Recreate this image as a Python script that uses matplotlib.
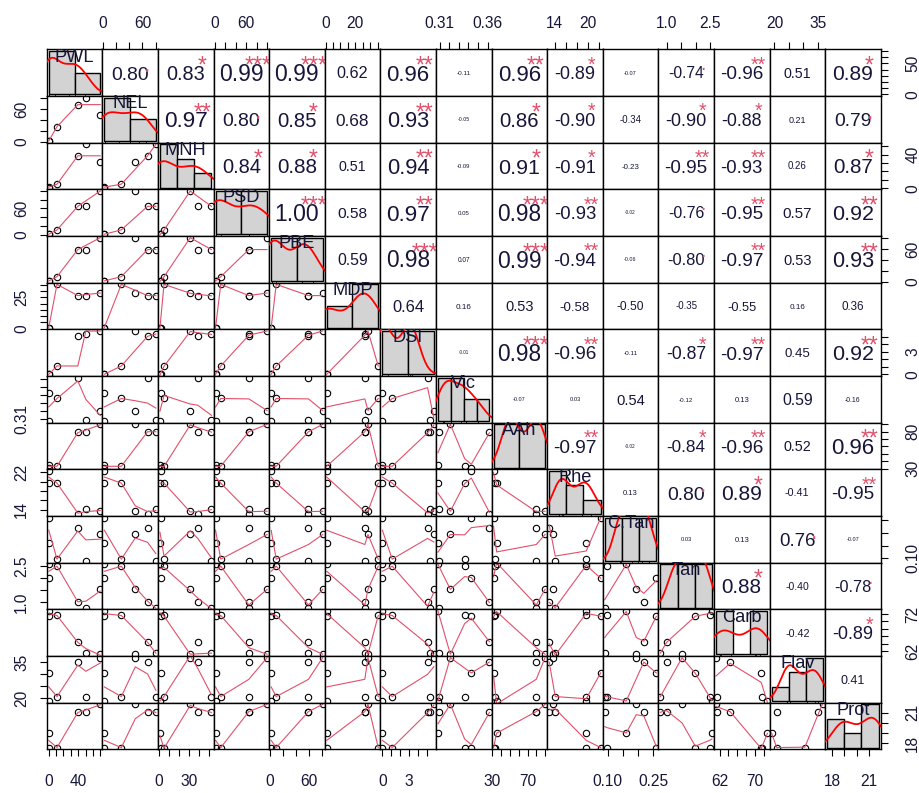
import numpy as np
import matplotlib
matplotlib.use("Agg")
import matplotlib.pyplot as plt
from matplotlib.font_manager import FontProperties

plt.rcParams['font.family'] = ['Liberation Sans', 'DejaVu Sans']

# ---------------- data (6 samples per variable) ----
names = ["PWL", "NEL", "MNH", "PSD", "PBE", "MDP", "DSI", "Vic", "AAh", "Rhe",
         "C.Tan", "Tan", "Carb", "Flav", "Prot"]
PWL  = [0.0, 0.0, 11.2, 39.5, 50.4, 70.0]
NEL  = [1.9, 1.9, 27.8, 67.9, 80.5, 49.1]
MNH  = [1.0, 2.0, 5.0, 38.5, 52.0, 31.0]
PSD  = [1.0, 1.0, 11.0, 65.0, 65.0, 100.0]
PBE  = [2.3, 2.3, 10.0, 59.0, 59.0, 80.5]
MDP  = [0.8, 0.8, 35.4, 26.4, 26.4, 28.5]
DSI  = [0.0, 0.0, 1.1, 5.05, 5.35, 5.75]
Vic  = [0.308, 0.343, 0.336, 0.362, 0.309, 0.321]
AAh  = [34.8, 31.3, 33.1, 80.0, 80.0, 90.0]
Rhe  = [19.7, 22.3, 19.7, 13.0, 14.1, 13.65]
CTan = [0.161, 0.260, 0.097, 0.219, 0.090, 0.194]
Tan  = [2.565, 1.99, 2.49, 0.99, 0.775, 1.53]
Carb = [72.8, 71.4, 71.6, 64.4, 61.5, 61.2]
Flav = [19.0, 30.6, 20.8, 35.1, 20.8, 36.9]
Prot = [19.0, 17.6, 17.6, 21.1, 21.1, 21.8]
data = [PWL, NEL, MNH, PSD, PBE, MDP, DSI, Vic, AAh, Rhe, CTan, Tan, Carb, Flav, Prot]

# correlation coefficients printed in the upper triangle (row variable vs later columns)
r_PWL  = [0.80, 0.83, 0.99, 0.99, 0.62, 0.96, -0.11, 0.96, -0.89, -0.07, -0.74, -0.96, 0.51, 0.89]
r_NEL  = [0.97, 0.80, 0.85, 0.68, 0.93, -0.05, 0.86, -0.90, -0.34, -0.90, -0.88, 0.21, 0.79]
r_MNH  = [0.84, 0.88, 0.51, 0.94, -0.09, 0.91, -0.91, -0.23, -0.95, -0.93, 0.26, 0.87]
r_PSD  = [1.00, 0.58, 0.97, 0.05, 0.98, -0.93, -0.02, -0.76, -0.95, 0.57, 0.92]
r_PBE  = [0.59, 0.98, 0.07, 0.99, -0.94, -0.06, -0.80, -0.97, 0.53, 0.93]
r_MDP  = [0.64, 0.16, 0.53, -0.58, -0.50, -0.35, -0.55, 0.16, 0.36]
r_DSI  = [-0.01, 0.98, -0.96, -0.11, -0.87, -0.97, 0.45, 0.92]
r_Vic  = [-0.07, 0.03, 0.54, -0.12, 0.13, 0.59, -0.16]
r_AAh  = [-0.97, -0.02, -0.84, -0.96, 0.52, 0.96]
r_Rhe  = [0.13, 0.80, 0.89, -0.41, -0.95]
r_CTan = [0.03, 0.13, 0.76, -0.07]
r_Tan  = [0.88, -0.40, -0.78]
r_Carb = [-0.42, -0.89]
r_Flav = [0.41]
r_rows = [r_PWL, r_NEL, r_MNH, r_PSD, r_PBE, r_MDP, r_DSI, r_Vic, r_AAh, r_Rhe,
          r_CTan, r_Tan, r_Carb, r_Flav]

# axis ticks and the tick labels that are printed
ticks = [list(range(0, 71, 10)), [0, 20, 40, 60, 80], list(range(0, 51, 10)),
         list(range(0, 101, 20)), [0, 20, 40, 60, 80], list(range(0, 36, 5)),
         [0, 1, 2, 3, 4, 5], [0.31, 0.32, 0.33, 0.34, 0.35, 0.36],
         list(range(30, 91, 10)), [14, 16, 18, 20, 22], [0.10, 0.15, 0.20, 0.25],
         [1.0, 1.5, 2.0, 2.5], [62, 64, 66, 68, 70, 72], [20, 25, 30, 35], [18, 19, 20, 21]]
xlabels_shown = [{0: "0", 40: "40"}, {0: "0", 60: "60"}, {0: "0", 30: "30"},
                 {0: "0", 60: "60"}, {0: "0", 60: "60"}, {0: "0", 20: "20"},
                 {0: "0", 3: "3"}, {0.31: "0.31", 0.36: "0.36"}, {30: "30", 70: "70"},
                 {14: "14", 20: "20"}, {0.10: "0.10", 0.25: "0.25"}, {1.0: "1.0", 2.5: "2.5"},
                 {62: "62", 70: "70"}, {20: "20", 35: "35"}, {18: "18", 21: "21"}]
ylabels_shown = [{0: "0", 50: "50"}, {0: "0", 60: "60"}, {0: "0", 40: "40"},
                 {0: "0", 60: "60"}, {0: "0", 60: "60"}, {0: "0", 25: "25"},
                 {0: "0", 3: "3"}, {0.31: "0.31"}, {30: "30", 80: "80"},
                 {14: "14", 22: "22"}, {0.10: "0.10"}, {1.0: "1.0", 2.5: "2.5"},
                 {62: "62", 72: "72"}, {20: "20", 35: "35"}, {18: "18", 21: "21"}]

# ---------------- helpers -------------------------------------------------------
def lowest(x, y, n, xs, nleft, nright, w, userw, rw):
    rng = x[n - 1] - x[0]
    h = max(xs - x[nleft], x[nright] - xs)
    h9, h1 = 0.999 * h, 0.001 * h
    a = 0.0
    j = nleft
    while j < n:
        w[j] = 0.0
        r = abs(x[j] - xs)
        if r <= h9:
            w[j] = 1.0 if r <= h1 else (1 - (r / h) ** 3) ** 3
            if userw:
                w[j] *= rw[j]
            a += w[j]
        elif x[j] > xs:
            break
        j += 1
    nrt = j - 1
    if a <= 0:
        return 0.0, False
    for k in range(nleft, nrt + 1):
        w[k] /= a
    if h > 0:
        a = sum(w[k] * x[k] for k in range(nleft, nrt + 1))
        b = xs - a
        c = sum(w[k] * (x[k] - a) ** 2 for k in range(nleft, nrt + 1))
        if np.sqrt(c) > 0.001 * rng:
            b /= c
            for k in range(nleft, nrt + 1):
                w[k] *= (b * (x[k] - a) + 1)
    return sum(w[k] * y[k] for k in range(nleft, nrt + 1)), True


def lowess(xx, yy, f=2 / 3, iters=3):
    o = np.argsort(xx, kind="mergesort")
    x = np.asarray(xx, float)[o]
    y = np.asarray(yy, float)[o]
    n = len(x)
    delta = 0.01 * (x[-1] - x[0])
    ns = max(2, min(n, int(f * n + 1e-7)))
    ys = np.zeros(n)
    rw = np.ones(n)
    w = np.zeros(n)
    for it in range(1, iters + 2):
        nleft, nright, last, i = 0, ns - 1, -1, 0
        while True:
            if nright < n - 1:
                d1 = x[i] - x[nleft]
                d2 = x[nright + 1] - x[i]
                if d1 > d2:
                    nleft += 1
                    nright += 1
                    continue
            val, ok = lowest(x, y, n, x[i], nleft, nright, w, it > 1, rw)
            ys[i] = val if ok else y[i]
            if last < i - 1:
                denom = x[i] - x[last]
                for j in range(last + 1, i):
                    alpha = (x[j] - x[last]) / denom
                    ys[j] = alpha * ys[i] + (1 - alpha) * ys[last]
            last = i
            cut = x[last] + delta
            i = last + 1
            while i < n:
                if x[i] > cut:
                    break
                if x[i] == x[last]:
                    ys[i] = ys[last]
                    last = i
                i += 1
            i = max(last + 1, i - 1)
            if last >= n - 1:
                break
        res = y - ys
        sc = np.sum(np.abs(res)) / n
        if it > iters:
            break
        ar = np.sort(np.abs(res))
        m1 = n // 2
        if n % 2 == 0:
            cmad = 3 * (ar[m1] + ar[n - m1 - 1])
        else:
            cmad = 6 * ar[m1]
        if cmad < 1e-7 * sc:
            break
        r = np.abs(res) / cmad
        rw = np.where(r <= 0.001, 1.0, np.where(r > 0.999, 0.0, (1 - r ** 2) ** 2))
    return x, ys


def r_pretty(lo, hi, n, min_n=1, h=1.5):
    h5 = 0.5 + 1.5 * h
    dx = hi - lo
    cell = max(abs(lo), abs(hi))
    U = 1 + (1 / (1 + h))
    U *= max(1, n) * np.finfo(float).eps
    if dx < cell * U * 3:
        if cell > 10:
            cell = 9 + cell / 10
        cell *= 0.75
    else:
        cell = dx / n if n > 1 else dx
    base = 10 ** np.floor(np.log10(cell))
    unit = base
    if 2 * base - cell < h * (cell - unit):
        unit = 2 * base
        if 5 * base - cell < h5 * (cell - unit):
            unit = 5 * base
            if 10 * base - cell < h * (cell - unit):
                unit = 10 * base
    ns = np.floor(lo / unit + 1e-7)
    nu = np.ceil(hi / unit - 1e-7)
    while ns * unit > lo + 1e-10 * unit:
        ns -= 1
    while nu * unit < hi - 1e-10 * unit:
        nu += 1
    k = int(np.floor(0.5 + nu - ns))
    if k < min_n:
        k = min_n - k
        if ns >= 0:
            nu += k // 2
            ns -= k // 2 + k % 2
        else:
            ns -= k // 2
            nu += k // 2 + k % 2
    return np.arange(ns, nu + 1) * unit


def fd_breaks(x):
    x = np.asarray(x, float)
    q1, q3 = np.percentile(x, [25, 75])
    h = 2 * (q3 - q1)
    if h == 0:
        xs = np.sort(x)
        al = 0.25
        while h == 0 and (al := al / 2) >= 1 / 512:
            a, b = np.percentile(xs, [100 * al, 100 * (1 - al)])
            h = (b - a) / (1 - 2 * al)
    nb = max(1, int(np.ceil((x.max() - x.min()) / (h * len(x) ** (-1 / 3))))) if h > 0 else 1
    return r_pretty(x.min(), x.max(), nb, min_n=1)


def density(x):
    x = np.asarray(x, float)
    n = len(x)
    sd = x.std(ddof=1)
    q1, q3 = np.percentile(x, [25, 75])
    lo = min(sd, (q3 - q1) / 1.34)
    if lo == 0:
        lo = sd if sd > 0 else (abs(x[0]) if x[0] != 0 else 1)
    bw = 0.9 * lo * n ** (-0.2)
    g = np.linspace(x.min() - 3 * bw, x.max() + 3 * bw, 512)
    d = np.exp(-0.5 * ((g[:, None] - x[None, :]) / bw) ** 2).sum(1) / (n * bw * np.sqrt(2 * np.pi))
    return g, d


def stars(r):
    r = abs(r)
    p = max(0.0, 1 - r * (1 + (1 - r * r) / 2))   # two-sided p, t-test with 4 df
    if p <= 0.001:
        return "***"
    if p <= 0.01:
        return "**"
    if p <= 0.05:
        return "*"
    if p <= 0.1:
        return "."
    return ""

# ---------------- layout --------------------------------------------------------
FW, FH, DPI = 919, 793, 100
fig = plt.figure(figsize=(FW / DPI, FH / DPI), dpi=DPI)
renderer = fig.canvas.get_renderer()
L, R, T, B = 46.7, 880.7, 49.3, 749.3
nv = len(names)
W = (R - L) / nv
H = (B - T) / nv
TXT = "#16163a"
SMOOTH = "#E0506A"
FONT = "Liberation Sans"


def rect(i, j):
    return [(L + j * W) / FW, 1 - (T + (i + 1) * H) / FH, W / FW, H / FH]


def text_w(s, size):
    fp = FontProperties(family=FONT, size=size)
    w, h, d = renderer.get_text_width_height_descent(s, fp, ismath=False)
    return w


def lims(v):
    v = np.asarray(v, float)
    lo, hi = v.min(), v.max()
    pad = 0.04 * (hi - lo)
    return lo - pad, hi + pad


px2pt = 72.0 / DPI
lab_size = 0.9 * W / text_w(max(names, key=lambda s: text_w(s, 10)), 10) * 10 * 0.95

base_kw = dict(length=5.2, width=0.8, direction="out", labelsize=11.2,
               labelcolor=TXT, color="black")

for i in range(nv):
    for j in range(nv):
        ax = fig.add_axes(rect(i, j))
        ax.set_xlim(*lims(data[j]))
        ax.set_ylim(*lims(data[i]))
        for sp in ax.spines.values():
            sp.set_linewidth(1.0)
            sp.set_color("black")
        ax.set_xticks([])
        ax.set_yticks([])

        if i > j:   # lower: scatter + lowess
            ax.plot(data[j], data[i], linestyle="none", marker="o", ms=4.6,
                    mfc="none", mec="black", mew=0.8)
            lx, ly = lowess(data[j], data[i])
            ax.plot(lx, ly, color=SMOOTH, lw=0.8)
        elif i < j:  # upper: correlation text
            r = r_rows[i][j - i - 1]
            txt = f"{r:.2f}"
            full = 0.8 * W / text_w(txt, 10) * 10
            fs = full * (abs(r) + 0.3) / 1.3
            em = fs / px2pt
            ax.text(0.5, 0.5 - 0.36 * em / H, txt, transform=ax.transAxes,
                    ha="center", va="baseline", fontsize=fs, color=TXT, family=FONT)
            s = stars(r)
            if s:
                emf = full / px2pt
                ax.text(0.8, 0.8 - 0.60 * emf / H, s, transform=ax.transAxes,
                        ha="center", va="baseline", fontsize=full, color=SMOOTH, family=FONT)
        else:       # diagonal: histogram + density + rug + name
            axh = fig.add_axes(rect(i, j))
            axh.set_axis_off()
            x = np.asarray(data[i], float)
            br = fd_breaks(x)
            cnt = np.array([np.sum((x > br[k]) & (x <= br[k + 1])) for k in range(len(br) - 1)], float)
            cnt[0] += np.sum(x == br[0])
            dens = cnt / (len(x) * np.diff(br))
            axh.bar(br[:-1], dens, width=np.diff(br), align="edge", color="#D3D3D3",
                    edgecolor="black", linewidth=1.0)
            xr = br[-1] - br[0]
            ym = dens.max()
            axh.set_xlim(br[0] - 0.04 * xr, br[-1] + 0.04 * xr)
            axh.set_ylim(-0.04 * ym, 1.04 * ym)
            g, d = density(x)
            axh.plot(g, d, color="red", lw=1.3)
            for xv in x:
                axh.plot([xv, xv], [-0.04 * ym, -0.04 * ym + 0.03 * 1.08 * ym], color="black", lw=0.6)
            axh.text(0.5, 0.833, names[i], transform=axh.transAxes, ha="center", va="center",
                     fontsize=lab_size, color=TXT, family=FONT)

        # outer axes (alternating, as in pairs())
        if i == 0 and j % 2 == 1:
            ax.set_xticks(ticks[j])
            ax.set_xticklabels([xlabels_shown[j].get(t, "") for t in ticks[j]], family=FONT)
            ax.xaxis.tick_top()
            ax.tick_params(axis="x", pad=8.0, **base_kw)
        if i == nv - 1 and j % 2 == 0:
            ax.set_xticks(ticks[j])
            ax.set_xticklabels([xlabels_shown[j].get(t, "") for t in ticks[j]], family=FONT)
            ax.tick_params(axis="x", pad=12.5, **base_kw)
        if j == 0 and i % 2 == 1:
            ax.set_yticks(ticks[i])
            ax.set_yticklabels([ylabels_shown[i].get(t, "") for t in ticks[i]], family=FONT,
                               rotation=90, va="center")
            ax.tick_params(axis="y", pad=7.5, **base_kw)
        if j == nv - 1 and i % 2 == 0:
            ax.set_yticks(ticks[i])
            ax.set_yticklabels([ylabels_shown[i].get(t, "") for t in ticks[i]], family=FONT,
                               rotation=90, va="center")
            ax.yaxis.tick_right()
            ax.tick_params(axis="y", pad=12.5, **base_kw)

fig.savefig("out.png", dpi=DPI)
